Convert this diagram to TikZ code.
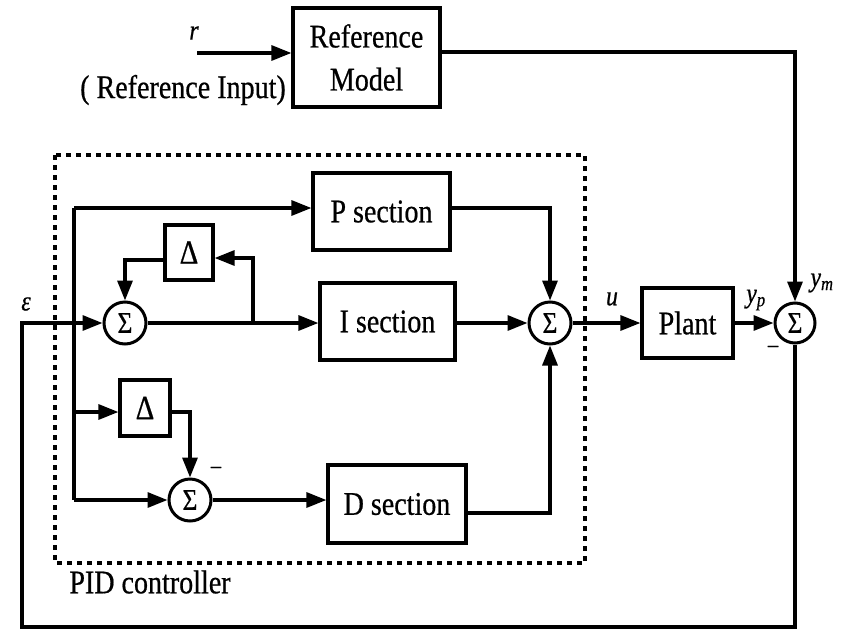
\documentclass[tikz,border=0pt]{standalone}
\usepackage{fontspec}
\setmainfont{Liberation Serif}[FakeStretch=0.85,FakeBold=0.6]
\usetikzlibrary{arrows.meta,calc}
\begin{document}
\begin{tikzpicture}[x=1pt,y=-1pt,
  blk/.style={draw,line width=3.2pt,inner sep=0pt,font=\fontsize{33}{43}\selectfont},
  dbox/.style={draw,line width=3.2pt,inner sep=0pt,font=\fontsize{34}{34}\selectfont},
  sumc/.style={draw,circle,line width=3pt,minimum size=42pt,inner sep=0pt,font=\fontsize{30}{30}\selectfont},
  sig/.style={line width=3.2pt,-{Triangle[length=20pt,width=15pt]}},
  wire/.style={line width=3.2pt},
  txt/.style={font=\fontsize{33}{36}\selectfont},
  lbl/.style={font=\fontsize{28}{28}\selectfont},
  neg/.style={font=\fontsize{24}{24}\selectfont}]
\useasboundingbox (0,0) rectangle (842,629);
% blocks
\node[blk,minimum width=147pt,minimum height=99pt,align=center] (rm) at (366.5,57.5) {Reference\\Model};
\node[blk,minimum width=91pt,minimum height=70pt] (plant) at (687.5,323) {Plant};
\node[blk,minimum width=137pt,minimum height=77pt] (P) at (381.5,211.5) {P section};
\node[blk,minimum width=135pt,minimum height=77pt] (I) at (387.5,321.5) {I section};
\node[blk,minimum width=138pt,minimum height=78pt] (D) at (397,504) {D section};
\node[dbox,minimum width=48pt,minimum height=55pt] (d1) at (189,252.5) {Δ};
\node[dbox,minimum width=50pt,minimum height=56pt] (d2) at (145,408) {Δ};
% sums
\node[sumc] (s1) at (125,323) {Σ};
\node[sumc] (s3) at (190,500) {Σ};
\node[sumc] (s4) at (550,323) {Σ};
\node[sumc,minimum size=40pt] (s2) at (795,323) {Σ};
% dashed PID box
\draw[line width=3.2pt,dash pattern=on 5pt off 5pt] (55,155) rectangle (585,563);
% coordinates
\coordinate (rin) at (197,53);
\coordinate (tr) at (795,52);
\coordinate (fb1) at (795,627);
\coordinate (fb2) at (22,627);
\coordinate (fb3) at (22,323);
\coordinate (bt) at (74,208);
\coordinate (bb) at (74,500);
\coordinate (b2) at (74,412);
\coordinate (dc) at (550,513);
\coordinate (j1) at (253,323);
\coordinate (j2) at (253,258);
\coordinate (k) at (125,260);
\coordinate (pc) at (550,208);
% connectors
\draw[sig] (rin) -- (rin -| rm.west);
\draw[sig] (rm.east |- tr) -- (tr) -- (s2.north);
\draw[sig] (s4.east) -- (plant.west |- s4.east);
\draw[sig] (plant.east |- s2.west) -- (s2.west);
\draw[sig] (s2.south) -- (fb1) -- (fb2) -- (fb3) -- (s1.west);
\draw[sig] (bt) -- (bt -| P.west);
\draw[wire] (bt) -- (bb);
\draw[sig] (bb) -- (s3.west);
\draw[sig] (b2) -- (b2 -| d2.west);
\draw[sig] (d2.east |- b2) -- (s3.north |- b2) -- (s3.north);
\draw[sig] (s3.east) -- (D.west |- s3.east);
\draw[sig] (D.east |- dc) -- (dc) -- (s4.south);
\draw[sig] (s1.east) -- (I.west |- s1.east);
\draw[sig] (j1) -- (j2) -- (d1.east |- j2);
\draw[sig] (d1.west |- k) -- (k) -- (s1.north);
\draw[sig] (I.east |- s4.west) -- (s4.west);
\draw[sig] (P.east |- pc) -- (pc) -- (s4.north);
% labels
\node[lbl] (lr) at (194,33) {\itshape r};
\node[txt] (lri) at (183,90) {( Reference Input)};
\node[lbl] (le) at (26,304) {\itshape ε};
\node[lbl] (lu) at (612,299) {\itshape u};
\node[lbl] (lyp) at (756,300) {\itshape y\textsubscript{p}};
\node[lbl] (lym) at (822,283) {\itshape y\textsubscript{m}};
\node[neg] (m1) at (216,470) {–};
\node[neg] (m2) at (773,349) {–};
\node[txt] (pid) at (150,582) {PID controller};
\end{tikzpicture}
\end{document}
